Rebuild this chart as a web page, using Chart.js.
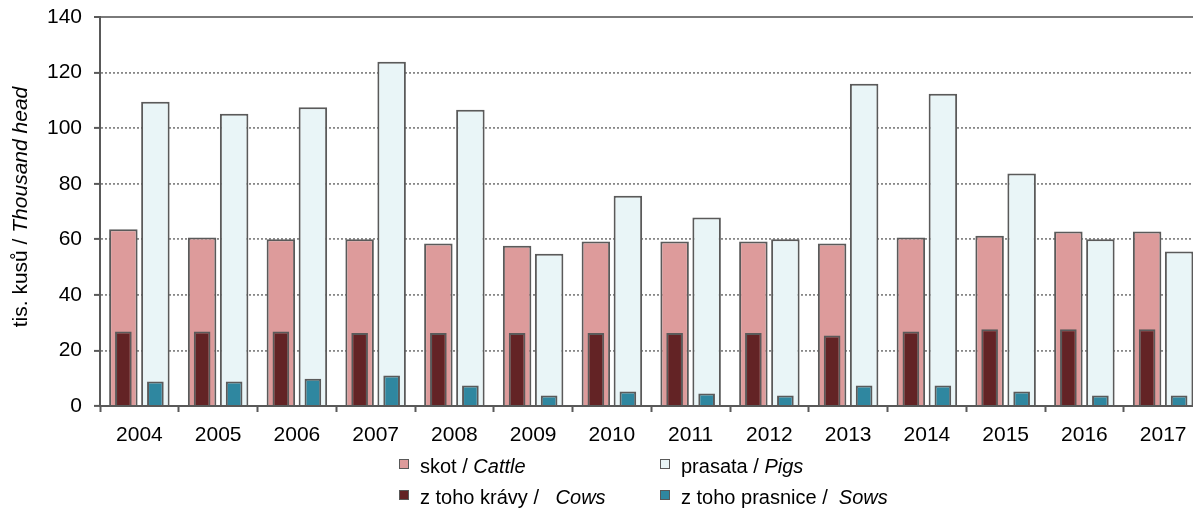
<!DOCTYPE html>
<html>
<head>
<meta charset="utf-8">
<script src="https://cdn.jsdelivr.net/npm/chart.js@4.4.1/dist/chart.umd.min.js"></script>
<style>
html, body { margin: 0; padding: 0; background: #fff; overflow: hidden; }
#wrap { width: 1212px; height: 510px; }
</style>
</head>
<body>
<div id="wrap"><canvas id="farm-bar-chart" width="1212" height="510"></canvas></div>
<script>
const years = ["2004", "2005", "2006", "2007", "2008", "2009", "2010",
	"2011", "2012", "2013", "2014", "2015", "2016", "2017"];

// thousand head
const cattle = [63.6, 60.6, 60.0, 60.0, 58.5, 57.7, 59.2, 59.2, 59.2, 58.5, 60.6, 61.3, 62.8, 62.8];
const pigs = [109.5, 105.2, 107.5, 123.9, 106.6, 54.8, 75.7, 67.8, 60.0, 116.0, 112.4, 83.7, 60.0, 55.6];
const cows = [26.8, 26.8, 26.8, 26.3, 26.3, 26.3, 26.3, 26.3, 26.3, 25.4, 26.8, 27.6, 27.6, 27.6];
const sows = [8.8, 8.8, 9.8, 11.0, 7.4, 3.8, 5.2, 4.5, 3.8, 7.4, 7.4, 5.2, 3.8, 3.8];

const yMin = 0;
const yMax = 140;
const yStep = 20;

const FONT = '"Liberation Sans", Arial, sans-serif';
const AXIS = "#595959";

const colors = {
	cattle: "#dd9b9b",
	pigs: "#e9f5f7",
	cows: "#632325",
	sows: "#2f87a0",
};

// legend + axis title with mixed regular / italic text
function drawMixed(ctx, parts, x, y, size, align) {
	let total = 0;
	parts.forEach((p) => {
		ctx.font = (p[1] ? "italic " : "") + size + "px " + FONT;
		total += ctx.measureText(p[0]).width;
	});
	let cx = align === "center" ? x - total / 2 : x;
	parts.forEach((p) => {
		ctx.font = (p[1] ? "italic " : "") + size + "px " + FONT;
		ctx.fillText(p[0], cx, y);
		cx += ctx.measureText(p[0]).width;
	});
}

const textPlugin = {
	id: "textPlugin",
	afterDraw(chart) {
		const ctx = chart.ctx;
		ctx.save();
		ctx.fillStyle = "#000";
		ctx.textBaseline = "middle";
		ctx.translate(21, 207);
		ctx.rotate(-Math.PI / 2);
		drawMixed(ctx, [["tis. kusů / ", false], ["Thousand head", true]], 0, 0, 21, "center");
		ctx.restore();

		const items = [
			{ color: colors.cattle, parts: [["skot / ", false], ["Cattle", true]], x: 399, y: 473 },
			{ color: colors.pigs, parts: [["prasata / ", false], ["Pigs", true]], x: 660, y: 473 },
			{ color: colors.cows, parts: [["z toho krávy /   ", false], ["Cows", true]], x: 399, y: 504 },
			{ color: colors.sows, parts: [["z toho prasnice /  ", false], ["Sows", true]], x: 660, y: 504 },
		];
		ctx.save();
		ctx.textBaseline = "alphabetic";
		items.forEach((it) => {
			ctx.fillStyle = it.color;
			ctx.fillRect(it.x, it.y - 14, 10, 10);
			ctx.strokeStyle = AXIS;
			ctx.lineWidth = 1;
			ctx.strokeRect(it.x + 0.5, it.y - 13.5, 9, 9);
			ctx.fillStyle = "#000";
			drawMixed(ctx, it.parts, it.x + 21, it.y, 20, "left");
		});
		ctx.restore();
	},
};

// cattle+cows share the left slot, pigs+sows the right one
const outerBar = { barPercentage: 0.89, categoryPercentage: 0.813 };
const innerBar = { barPercentage: 0.52, categoryPercentage: 0.813 };

const data = {
	labels: years,
	datasets: [
		{
			label: "skot / Cattle",
			data: cattle,
			stack: "cattle",
			backgroundColor: colors.cattle,
			order: 2,
			...outerBar,
		},
		{
			label: "prasata / Pigs",
			data: pigs,
			stack: "pigs",
			backgroundColor: colors.pigs,
			order: 2,
			...outerBar,
		},
		{
			label: "z toho krávy / Cows",
			data: cows,
			stack: "cattle",
			backgroundColor: colors.cows,
			order: 1,
			...innerBar,
		},
		{
			label: "z toho prasnice / Sows",
			data: sows,
			stack: "pigs",
			backgroundColor: colors.sows,
			order: 1,
			...innerBar,
		},
	],
};

const config = {
	type: "bar",
	data: data,
	options: {
		responsive: false,
		animation: false,
		devicePixelRatio: 1,
		layout: {
			padding: { left: 0, top: 17, right: 9.5, bottom: 0 },
		},
		datasets: {
			bar: {
				borderColor: "#5a5a5a",
				borderWidth: 2,
			},
		},
		plugins: {
			legend: { display: false },
			tooltip: { enabled: false },
		},
		scales: {
			x: {
				type: "category",
				offset: true,
				afterFit: (scale) => { scale.height = 104; },
				grid: {
					offset: true,
					drawOnChartArea: false,
					drawTicks: true,
					tickLength: 6,
					tickColor: AXIS,
					tickWidth: 2,
				},
				border: { display: true, color: AXIS, width: 2 },
				ticks: {
					font: { family: FONT, size: 21 },
					color: "#000",
					padding: 11,
					maxRotation: 0,
					autoSkip: false,
				},
			},
			y: {
				min: yMin,
				max: yMax,
				stacked: false,
				afterFit: (scale) => {
					scale.width = 100;
					scale.paddingTop = 0;
					scale.paddingBottom = 0;
				},
				ticks: {
					stepSize: yStep,
					font: { family: FONT, size: 21 },
					color: "#000",
					padding: 12,
				},
				grid: {
					color: (c) => {
						if (!c.tick) return "#8c8c8c";
						if (c.tick.value === yMin) return "rgba(0,0,0,0)";
						return c.tick.value === yMax ? "#7a7a7a" : "#888888";
					},
					lineWidth: (c) => (c.tick && c.tick.value === yMax ? 2 : 1.8),
					tickLength: 6,
					tickColor: AXIS,
					tickWidth: 2,
					tickBorderDash: [],
				},
				border: {
					display: true,
					color: AXIS,
					width: 2,
					dash: (c) => (c.tick && c.tick.value === yMax ? [] : [2, 2]),
				},
			},
		},
	},
	plugins: [textPlugin],
};

const chart = new Chart(document.getElementById("farm-bar-chart").getContext("2d"), config);
</script>
</body>
</html>
